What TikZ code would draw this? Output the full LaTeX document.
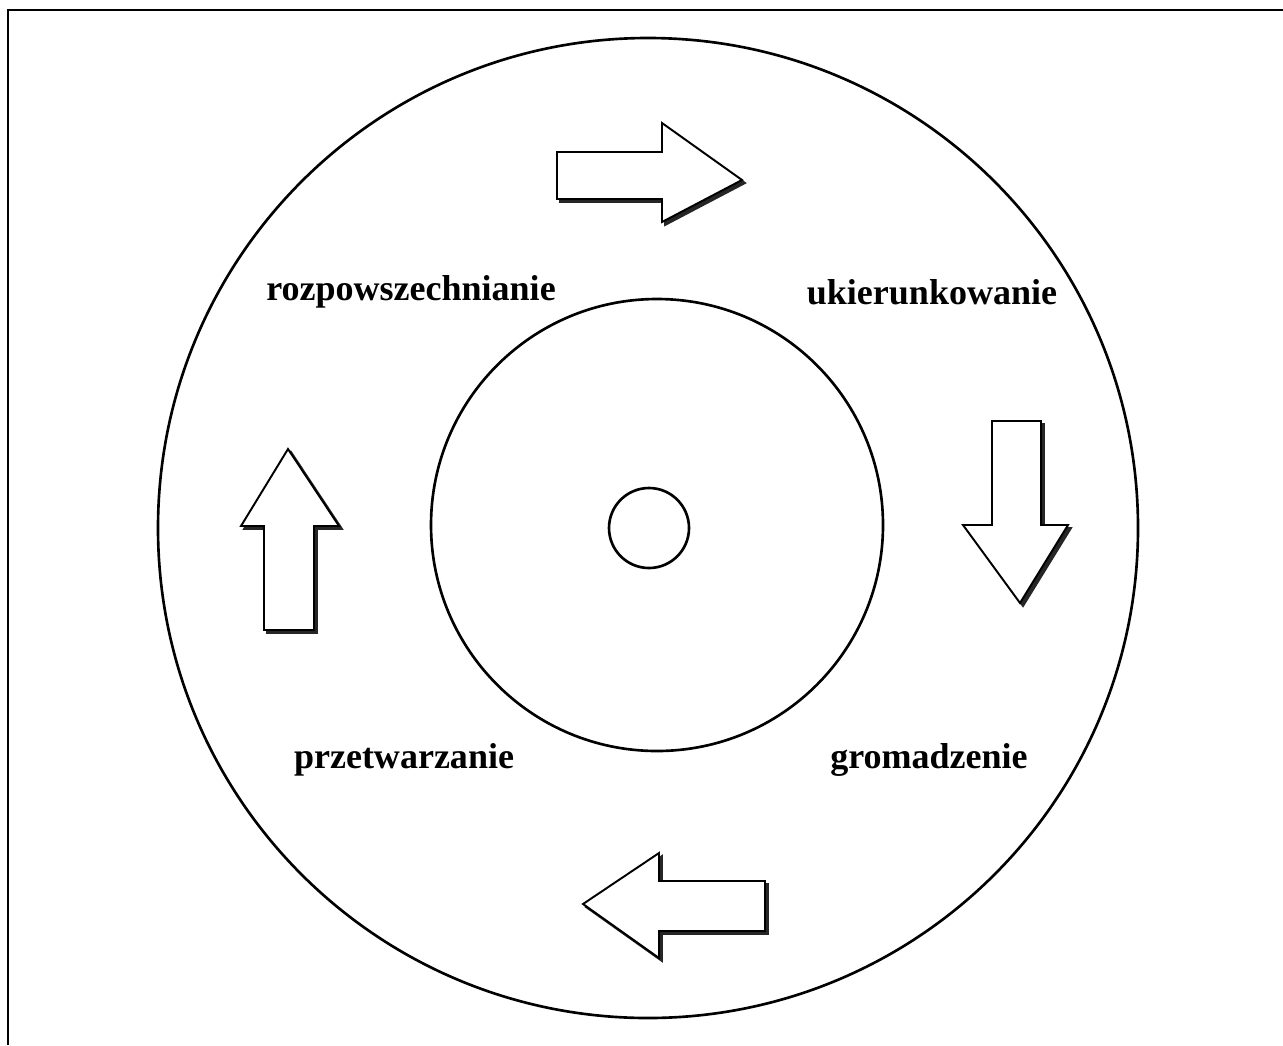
\documentclass[tikz,border=0pt]{standalone}
\usepackage{fontspec}
\setmainfont{Liberation Serif}

\tikzset{
	ring/.style = {draw, line width = 1.5 pt},
	label/.style = {font = \fontsize{20.5}{24}\selectfont\bfseries, inner sep = 0 pt},
	block/.style = {draw, fill = white, line width = 1.1 pt, line join = miter},
	shade/.style = {fill = black!85, draw = black!85, line width = 1.1 pt}
}

% Block arrow with a shadow: #1 = points of the outline
\newcommand{\blockarrow}[1]{
	\fill [shade, shift = {(3, 3)}] #1 -- cycle;
	\draw [block] #1 -- cycle;
}

\begin{document}
\begin{tikzpicture}[x = 0.02 cm, y = -0.02 cm]

	\useasboundingbox (0, 0) rectangle (1283, 1045);

	% Frame of the page
	
	\draw [line width = 0.8 pt] (8, 1045) -- (8, 10) -- (1283, 10);

	% Circles
	
	\draw [ring] (648, 528) circle (490);
	\draw [ring] (657, 525) circle (226);
	\draw [ring] (649, 528) circle (40);

	% Labels
	
	\node [label] (roz) at (411, 292) {rozpowszechnianie};
	\node [label] (uki) at (932, 292) {ukierunkowanie};
	\node [label] (prz) at (404, 760) {przetwarzanie};
	\node [label] (gro) at (929, 760) {gromadzenie};

	% Arrows
	
	\blockarrow{(557, 152) -- (662, 152) -- (662, 123) -- (742, 180) -- (662, 222) -- (662, 199) -- (557, 199)}
	\blockarrow{(992, 421) -- (1041, 421) -- (1041, 525) -- (1068, 525) -- (1020, 603) -- (963, 525) -- (992, 525)}
	\blockarrow{(765, 881) -- (659, 881) -- (659, 853) -- (583, 904) -- (659, 958) -- (659, 931) -- (765, 931)}
	\blockarrow{(264, 630) -- (264, 526) -- (241, 526) -- (288, 449) -- (339, 526) -- (314, 526) -- (314, 630)}

\end{tikzpicture}
\end{document}
